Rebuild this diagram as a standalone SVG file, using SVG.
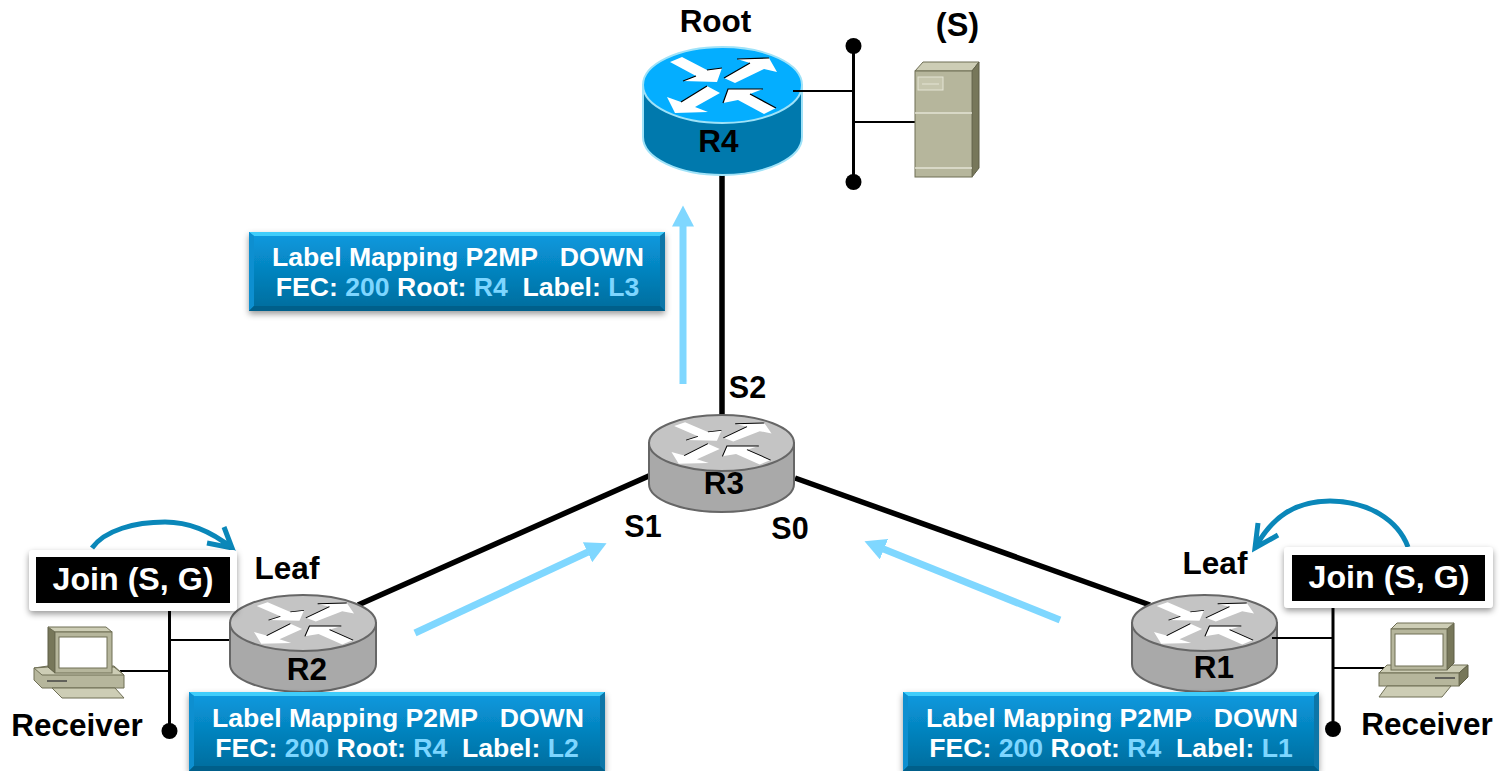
<svg xmlns="http://www.w3.org/2000/svg" width="1502" height="771" viewBox="0 0 1502 771">
<style>
text{font-family:"Liberation Sans",Arial,sans-serif;font-weight:700;text-anchor:middle;fill:#000;white-space:pre}
.t{font-size:31.5px}.s{font-size:30.5px}
.lb{font-size:26.6px;fill:#fff}.hl{fill:#7dd6ff}
.j{font-size:32.2px;fill:#fff}
.thick{stroke:#000;stroke-width:5.5;fill:none}
.bus{stroke:#000;stroke-width:3;fill:none}
.thin{stroke:#000;stroke-width:2;fill:none}
.flow{stroke:#7fd7ff;stroke-width:7;fill:none;marker-end:url(#fh)}
.curve{stroke:#0a87b9;stroke-width:5;fill:none}
.ra{fill:#fff}.rl{stroke:#000;stroke-width:1.2;fill:none}
.gy .top{fill:#c4c4c4;stroke:#666;stroke-width:2}.gy .side{fill:#a9a9a9;stroke:#666;stroke-width:2}
.gy .ra{fill:#efefef}
.bl .top{fill:#04aeff;stroke:#9fe2f8;stroke-width:2}.bl .side{fill:#0079ad;stroke:#9fe2f8;stroke-width:2}
.f1{fill:#b6b69c;stroke:#6f6f55;stroke-width:1}.f2{fill:#cdcdb5;stroke:#6f6f55;stroke-width:1}.f3{fill:#77775a;stroke:#5f5f47;stroke-width:1}
</style>
<defs>
<marker id="fh" markerUnits="userSpaceOnUse" markerWidth="22" markerHeight="22" refX="0.5" refY="11" orient="auto"><path d="M0,0L21,11L0,22z" fill="#7fd7ff"/></marker>
<linearGradient id="bx" x1="0" y1="0" x2="0" y2="1"><stop offset="0" stop-color="#0a9ae0"/><stop offset="1" stop-color="#006c9c"/></linearGradient>
<filter id="sh" x="-5%" y="-15%" width="110%" height="135%"><feDropShadow dx="0" dy="3" stdDeviation="3" flood-color="#000" flood-opacity=".4"/></filter>
<g id="arrows">
<path class="ra" d="M-52-23-40-28-15-15 0-17-5-3-39-4-26-9zM2-7 28-22 15-26 47-27 55-13 42-16 13-2zM-15 1-2 8-27 22-14 27-47 28-55 12-41 17zM1 18 6 4 41 4 28 9 54 23 42 29 16 15z"/>
<path class="rl" d="M-39-4-26-9M-15-15 0-17M2-7 28-22M15-26 47-27M-41 17-15 1M1 18 6 4 41 4M28 9 54 23"/>
</g>
<g id="box"><rect width="416" height="79" fill="url(#bx)"/><path d="M0,0H416L411,4H5z" fill="#3fcdfb"/><path d="M0,0L5,4V74L0,79z" fill="#0a8fd0"/><path d="M416,0L411,4V74L416,79z" fill="#0a76a8"/><path d="M0,79L5,74H411L416,79z" fill="#005f8a"/></g>
</defs>

<g id="connectors">
<path class="thick" d="M722,172V415"/>
<path class="thick" d="M651,475L358,605"/>
<path class="thick" d="M795,478L1150,605"/>
<path class="bus" d="M853.5,46V182"/>
<path class="thin" d="M853,122H915"/>
<circle cx="853.5" cy="46" r="8"/><circle cx="853.5" cy="182" r="8"/>
<path class="bus" d="M169.5,605V731"/>
<path class="thin" d="M170,640H231M120,671H170"/>
<circle cx="169.5" cy="731" r="8"/>
<path class="bus" d="M1333,600V729"/>
<path class="thin" d="M1333,668H1385"/>
<circle cx="1333" cy="729" r="8"/>
<path class="flow" d="M683,384V226"/>
<path class="flow" d="M415,633L588,552"/>
<path class="flow" d="M1060,620L883.5,549"/>
<path class="curve" d="M92,548C105,530 135,522 165,522C190,522 212,532 232,548M224,527L232,548L207,543"/>
<path class="curve" d="M1408,547C1398,520 1368,501 1330,501C1295,501 1272,517 1255,548M1258,523L1255,548L1278,535"/>
</g>

<g id="R4" class="bl"><path class="side" d="M643,85V137A79.5,38 0 0 0 802,137V85z"/><ellipse class="top" cx="722.5" cy="85" rx="79.5" ry="38"/><use href="#arrows" x="722" y="85"/><text class="t" x="718.5" y="152">R4</text></g>
<g id="R3" class="gy"><path class="side" d="M649,443V484A72.5,28 0 0 0 794,484V443z"/><ellipse class="top" cx="721.5" cy="443" rx="72.5" ry="28"/><use href="#arrows" transform="translate(721.5 443) scale(.91 .74)"/><text class="t" x="724" y="494">R3</text></g>
<g id="R2" class="gy"><path class="side" d="M230,623V664A73,28 0 0 0 376,664V623z"/><ellipse class="top" cx="303" cy="623" rx="73" ry="28"/><use href="#arrows" transform="translate(304 623) scale(.91 .74)"/><text class="t" x="307" y="680">R2</text></g>
<g id="R1" class="gy"><path class="side" d="M1132,623V664A72.5,28 0 0 0 1277,664V623z"/><ellipse class="top" cx="1204.5" cy="623" rx="72.5" ry="28"/><use href="#arrows" transform="translate(1204 623) scale(.91 .74)"/><text class="t" x="1214" y="678">R1</text></g>

<g id="connectors-over"><path class="thin" d="M793,91H853M1272,638H1333"/></g>

<g id="server">
<path class="f2" d="M915,71L923,62H979L972,71z"/><path class="f3" d="M972,71L979,62V168L972,177z"/>
<rect class="f1" x="915" y="71" width="57" height="106"/>
<path d="M915,113H972M915,168H972" stroke="#e4e4d4" stroke-width="1.5" fill="none"/>
<rect x="918" y="77" width="25" height="13" fill="#c6c6ae" stroke="#e4e4d4"/><path d="M922,84H939" stroke="#e4e4d4"/>
</g>
<g id="pc-left">
<path class="f1" d="M34,668L48,666H114L124,675V688H42L34,680z"/><path class="f2" d="M34,668L42,675H124L114,667H48z"/><path d="M47,681H67" stroke="#444" stroke-width="1.5"/>
<path class="f2" d="M52,688H115L124,698H62z"/>
<path class="f3" d="M48,627L55,632V673L48,667z"/><path class="f2" d="M48,627H106L112,632H55z"/>
<rect class="f1" x="55" y="632" width="57" height="41"/><rect x="59" y="637" width="48" height="31" fill="#fff" stroke="#6f6f55"/>
</g>
<g id="pc-right">
<path class="f2" d="M1379,673L1387,665H1468L1459,673z"/><path class="f3" d="M1459,673L1468,665V677L1459,686z"/><rect class="f1" x="1379" y="673" width="80" height="13"/>
<path d="M1435,678H1455" stroke="#444" stroke-width="1.5"/>
<path class="f2" d="M1387,686H1451L1442,697H1379z"/>
<path class="f3" d="M1447,629L1454,623V663L1447,670z"/><path class="f2" d="M1391,629L1397,623H1454L1447,629z"/>
<rect class="f1" x="1391" y="629" width="56" height="41"/><rect x="1395" y="634" width="48" height="32" fill="#fff" stroke="#6f6f55"/>
</g>

<g id="join-left"><rect x="29" y="550" width="208" height="61" rx="4" fill="#fff" filter="url(#sh)"/><rect x="36" y="557" width="194" height="46"/><text class="j" x="133" y="590">Join (S, G)</text></g>
<g id="join-right"><rect x="1284" y="547" width="209" height="61" rx="4" fill="#fff" filter="url(#sh)"/><rect x="1292" y="555" width="193" height="46"/><text class="j" x="1389" y="588">Join (S, G)</text></g>

<g id="label-l3"><use href="#box" x="249" y="232" filter="url(#sh)"/><text class="lb" x="458" y="266">Label Mapping P2MP   DOWN</text><text class="lb" x="457.5" y="296">FEC: <tspan class="hl">200</tspan> Root: <tspan class="hl">R4</tspan>  Label: <tspan class="hl">L3</tspan></text></g>
<g id="label-l2"><use href="#box" x="189" y="692" filter="url(#sh)"/><text class="lb" x="398" y="727">Label Mapping P2MP   DOWN</text><text class="lb" x="397" y="757">FEC: <tspan class="hl">200</tspan> Root: <tspan class="hl">R4</tspan>  Label: <tspan class="hl">L2</tspan></text></g>
<g id="label-l1"><use href="#box" x="903" y="692" filter="url(#sh)"/><text class="lb" x="1112" y="727">Label Mapping P2MP   DOWN</text><text class="lb" x="1111" y="757">FEC: <tspan class="hl">200</tspan> Root: <tspan class="hl">R4</tspan>  Label: <tspan class="hl">L1</tspan></text></g>

<g id="texts">
<text class="t" x="715.5" y="32">Root</text>
<text class="t" x="957.5" y="36" style="font-size:32.5px">(S)</text>
<text class="t" x="287" y="579">Leaf</text>
<text class="t" x="1215" y="574">Leaf</text>
<text class="t" x="77" y="736">Receiver</text>
<text class="t" x="1427" y="735">Receiver</text>
<text class="s" x="747.5" y="398">S2</text>
<text class="s" x="643" y="537">S1</text>
<text class="s" x="790" y="539">S0</text>
</g>
</svg>
